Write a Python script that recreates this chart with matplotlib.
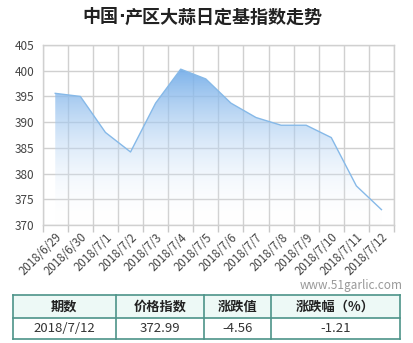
import numpy as np
import matplotlib
matplotlib.use("Agg")
import matplotlib.pyplot as plt
from matplotlib.colors import LinearSegmentedColormap
from matplotlib.patches import Polygon

plt.rcParams['font.family'] = ['Noto Sans CJK SC', 'DejaVu Sans']

# data
dates = ["2018/6/29", "2018/6/30", "2018/7/1", "2018/7/2", "2018/7/3", "2018/7/4",
         "2018/7/5", "2018/7/6", "2018/7/7", "2018/7/8", "2018/7/9", "2018/7/10",
         "2018/7/11", "2018/7/12"]
index_vals = [395.6, 395.0, 388.0, 384.2, 393.7, 400.3, 398.4, 393.7, 390.9,
              389.4, 389.4, 387.0, 377.6, 372.99]
yticks = [370, 375, 380, 385, 390, 395, 400, 405]

table_head = ["期数", "价格指数", "涨跌值", "涨跌幅（%）"]
table_row = ["2018/7/12", "372.99", "-4.56", "-1.21"]

fig = plt.figure(figsize=(4.14, 3.43), dpi=100)
W, H = 414, 343
# plot area in pixels: left 42.7, right 394, top 45, bottom 225
ax = fig.add_axes([42.7 / W, 1 - 225 / H, (394 - 42.7) / W, 180 / H])

x = np.arange(len(dates))
ax.set_xlim(-0.5, len(dates) - 0.5)
ax.set_ylim(370, 405)

# gradient fill under the line
cmap = LinearSegmentedColormap.from_list("g", [(1, 1, 1, 0.0), (0.44, 0.67, 0.91, 0.95)])
grad = np.linspace(0, 1, 256).reshape(-1, 1)
im = ax.imshow(grad, cmap=cmap, aspect='auto', origin='lower',
               extent=[-0.5, len(dates) - 0.5, 370, 401], zorder=2)
verts = [(x[0], 370)] + list(zip(x, index_vals)) + [(x[-1], 370)]
poly = Polygon(verts, closed=True, facecolor='none', edgecolor='none')
ax.add_patch(poly)
im.set_clip_path(poly)
ax.plot(x, index_vals, color='#86b9e8', lw=1.0, zorder=3)

# grid at category boundaries
ax.set_yticks(yticks)
ax.set_yticklabels([str(v) for v in yticks], fontsize=8.5, color='#444444')
ax.set_xticks(x)
ax.set_xticklabels(dates, rotation=45, ha='right', rotation_mode='anchor',
                   fontsize=8.3, color='#444444')
ax.tick_params(axis='x', length=0, pad=4)
ax.tick_params(axis='y', length=0, pad=6)
ax.set_xticks(np.arange(len(dates) + 1) - 0.5, minor=True)
ax.tick_params(axis='x', which='minor', length=5, color='#c8c8c8', width=1)
ax.grid(which='minor', axis='x', color='#d0d0d0', lw=1, zorder=1)
ax.grid(which='major', axis='y', color='#d0d0d0', lw=1, zorder=1)
for s in ax.spines.values():
    s.set_color('#d0d0d0')
    s.set_linewidth(1)
ax.set_axisbelow(True)

# title in three pieces so the middle dot stays narrow
parts = [("中国", 'Noto Sans CJK SC'), ("·", 'DejaVu Sans'), ("产区大蒜日定基指数走势", 'Noto Sans CJK SC')]
renderer = fig.canvas.get_renderer()
pieces = []
for s, fam in parts:
    t = fig.text(0, 1 - 17 / H, s, ha='left', va='center', fontsize=13,
                 fontweight='bold', color='#222222', family=fam)
    pieces.append((t, t.get_window_extent(renderer).width))
total = sum(w for _, w in pieces)
xpos = 202.5 - total / 2
for t, w in pieces:
    t.set_x(xpos / W)
    xpos += w

fig.text(403 / W, 1 - 286 / H, "www.51garlic.com", ha='right', va='center',
         fontsize=8.5, color='#999999')

# table under the chart
tab = fig.add_axes([0, 0, 1, 1], facecolor='none')
tab.set_xlim(0, W)
tab.set_ylim(H, 0)
tab.axis('off')
cols = [12.7, 116, 204, 270.7, 400]
top, mid, bot = 295, 318, 339
tab.fill_between([cols[0], cols[-1]], top, mid, color='#edf9f6', lw=0)
edge = '#4d9489'
for y in (top, mid, bot):
    tab.plot([cols[0], cols[-1]], [y, y], color=edge, lw=1.2)
for c in cols:
    tab.plot([c, c], [top, bot], color=edge, lw=1.2)
for i in range(4):
    cx = (cols[i] + cols[i + 1]) / 2
    tab.text(cx, (top + mid) / 2, table_head[i], ha='center', va='center',
             fontsize=9.5, fontweight='bold', color='#222222')
    tab.text(cx, (mid + bot) / 2, table_row[i], ha='center', va='center',
             fontsize=9.5, color='#333333')

fig.savefig("out.png", dpi=100)
